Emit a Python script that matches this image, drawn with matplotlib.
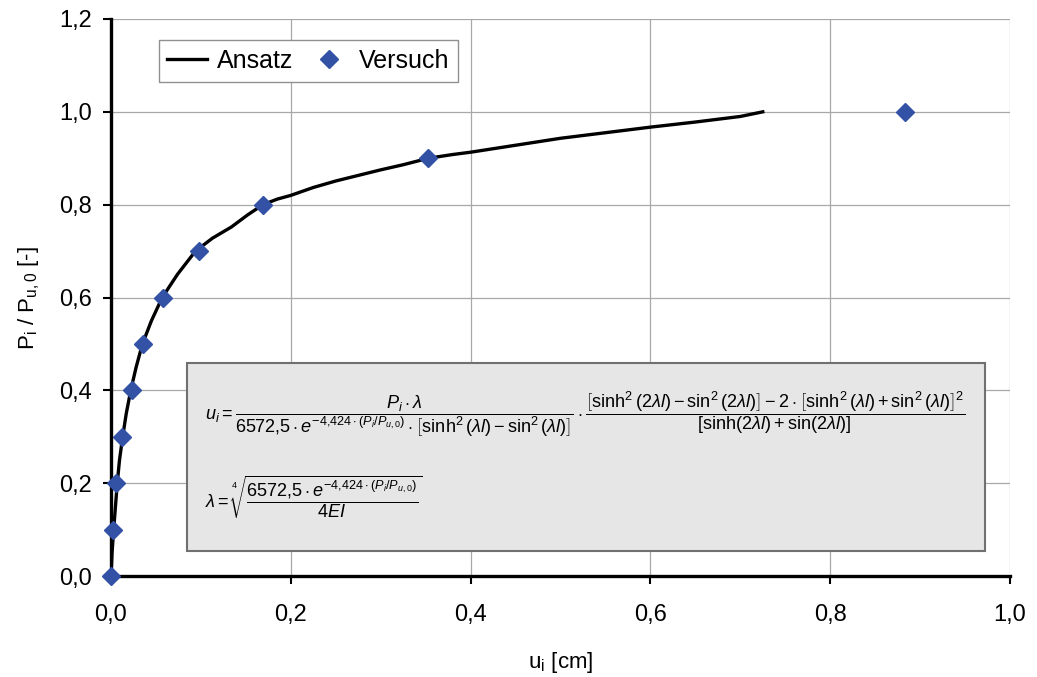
import matplotlib.pyplot as plt
from matplotlib.patches import Rectangle

plt.rcParams['font.family'] = ['Liberation Sans', 'DejaVu Sans']
plt.rcParams['mathtext.fontset'] = 'custom'
plt.rcParams['mathtext.rm'] = 'Liberation Sans'
plt.rcParams['mathtext.it'] = 'Liberation Sans:italic'

# Ansatz (Kurve)
ansatz_u = [0.0, 0.0012, 0.003, 0.005, 0.007, 0.0095, 0.013, 0.017, 0.022, 0.028,
            0.035, 0.045, 0.057, 0.074, 0.094, 0.113, 0.134, 0.152, 0.169, 0.185,
            0.2, 0.225, 0.25, 0.275, 0.3, 0.325, 0.353, 0.38, 0.4, 0.45,
            0.5, 0.55, 0.6, 0.65, 0.7, 0.725]
ansatz_p = [0.0, 0.05, 0.1, 0.15, 0.2, 0.25, 0.3, 0.35, 0.4, 0.45,
            0.5, 0.55, 0.6, 0.65, 0.7, 0.728, 0.752, 0.778, 0.8, 0.812,
            0.82, 0.837, 0.851, 0.863, 0.875, 0.886, 0.9, 0.908, 0.913, 0.928,
            0.943, 0.955, 0.967, 0.978, 0.99, 1.0]

# Versuch (Messpunkte)
versuch_u = [0.0, 0.002, 0.006, 0.012, 0.023, 0.036, 0.058, 0.098, 0.169, 0.353, 0.883]
versuch_p = [0.0, 0.1, 0.2, 0.3, 0.4, 0.5, 0.6, 0.7, 0.8, 0.9, 1.0]

xticks = [0.0, 0.2, 0.4, 0.6, 0.8, 1.0]
yticks = [0.0, 0.2, 0.4, 0.6, 0.8, 1.0, 1.2]

fig = plt.figure(figsize=(10.37, 6.77), dpi=100)
ax = fig.add_axes([0.107, 0.149, 0.867, 0.823])

ax.plot(ansatz_u, ansatz_p, color='black', lw=2.4, label='Ansatz', zorder=3)
ax.plot(versuch_u, versuch_p, ls='none', marker='D', ms=9, color='#3352A6',
        label='Versuch', zorder=4, clip_on=False)

ax.set_xlim(0, 1.0)
ax.set_ylim(0, 1.2)
ax.set_xticks(xticks)
ax.set_yticks(yticks)
ax.set_xticklabels([f'{t:.1f}'.replace('.', ',') for t in xticks])
ax.set_yticklabels([f'{t:.1f}'.replace('.', ',') for t in yticks])
ax.tick_params(direction='out', length=6, width=1.5, labelsize=17, pad=8)
ax.tick_params(axis='x', pad=14)
ax.grid(True, color='#a8a8a8', lw=0.9)
ax.set_axisbelow(True)
for s in ['top', 'right']:
    ax.spines[s].set_visible(False)
for s in ['left', 'bottom']:
    ax.spines[s].set_linewidth(2.4)

ax.set_xlabel(r'u$_\mathregular{i}$ [cm]', fontsize=16, labelpad=17)
ax.set_ylabel(r'P$_\mathregular{i}$ / P$_\mathregular{u,0}$ [-]', fontsize=16, labelpad=12)

leg = ax.legend(loc='upper left', bbox_to_anchor=(0.053, 0.962), ncol=2, fontsize=18,
                fancybox=False, edgecolor='#909090', framealpha=1, borderaxespad=0,
                handlelength=1.6, handletextpad=0.4, columnspacing=0.6, borderpad=0.35)
leg.get_frame().set_linewidth(1.0)

# Formelkasten
ax.add_patch(Rectangle((0.0845, 0.054), 0.8875, 0.405, facecolor='#e6e6e6',
                       edgecolor='#707070', lw=1.5, zorder=5))
f1 = (r'$u_i = \dfrac{P_i \cdot \lambda}{6572{,}5 \cdot e^{-4{,}424\cdot(P_i/P_{u,0})}'
      r'\cdot\left[\sinh^2(\lambda l) - \sin^2(\lambda l)\right]}\cdot'
      r'\dfrac{\left[\sinh^2(2\lambda l) - \sin^2(2\lambda l)\right] - 2\cdot'
      r'\left[\sinh^2(\lambda l) + \sin^2(\lambda l)\right]^2}'
      r'{\left[\sinh(2\lambda l) + \sin(2\lambda l)\right]}$')
f2 = r'$\lambda = \sqrt[4]{\dfrac{6572{,}5\cdot e^{-4{,}424\cdot(P_i/P_{u,0})}}{4EI}}$'
ax.text(0.105, 0.35, f1, fontsize=13.1, va='center', ha='left', zorder=6)
ax.text(0.105, 0.17, f2, fontsize=13.1, va='center', ha='left', zorder=6)

fig.savefig('out.png', dpi=100)
